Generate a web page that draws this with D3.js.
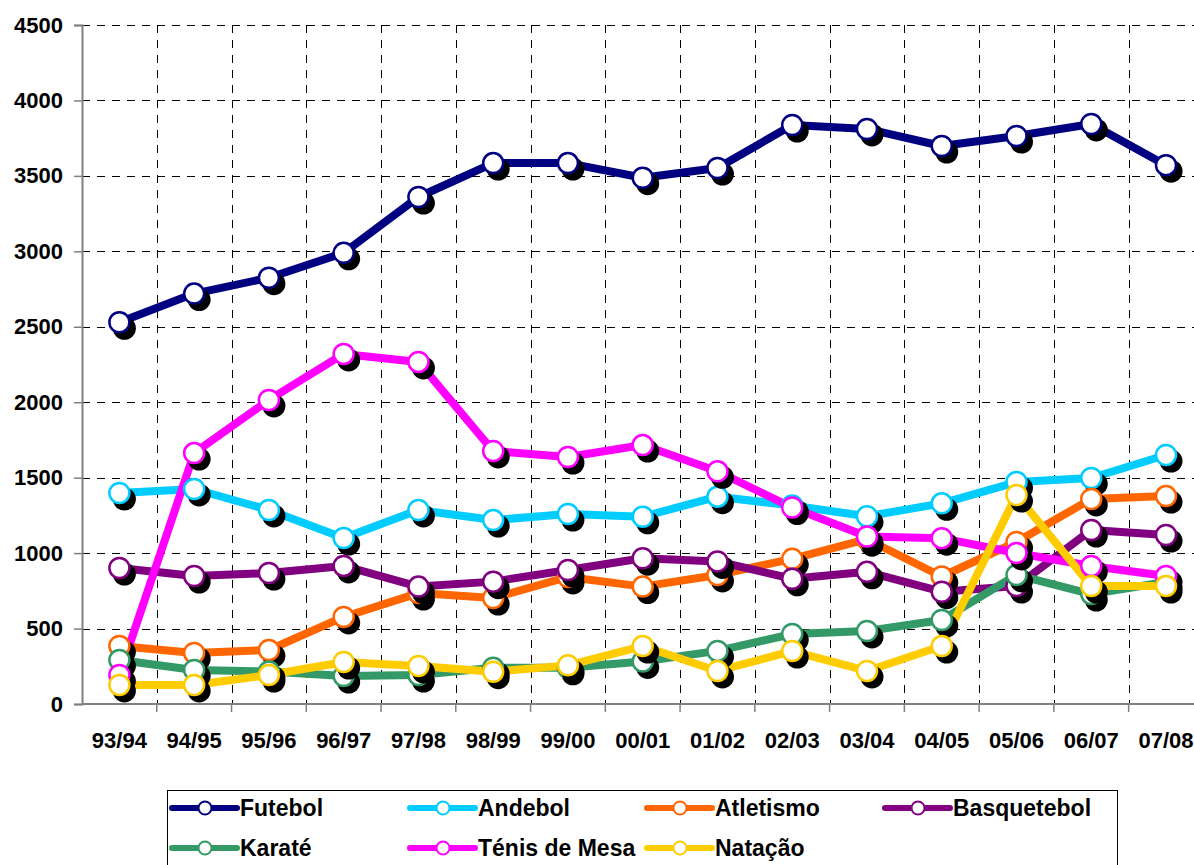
<!DOCTYPE html>
<html>
<head>
<meta charset="utf-8">
<script src="https://cdn.jsdelivr.net/npm/d3@7"></script>
<style>
  html, body { margin: 0; padding: 0; background: #fff; overflow: hidden; }
  svg { display: block; font-family: "Liberation Sans", Arial, sans-serif; font-weight: bold; }
</style>
</head>
<body>
<svg id="chart" width="1194" height="865"></svg>
<script>
// Seasons on the category axis
const seasons = ["93/94","94/95","95/96","96/97","97/98","98/99","99/00","00/01","01/02","02/03","03/04","04/05","05/06","06/07","07/08"];

// Registered athletes per sport and season
const futebol     = [2530, 2720, 2825, 2990, 3360, 3585, 3585, 3488, 3552, 3837, 3811, 3698, 3764, 3844, 3571];
const andebol     = [1398, 1425, 1286, 1100, 1286, 1219, 1259, 1241, 1374, 1316, 1244, 1330, 1471, 1498, 1650];
const atletismo   = [384, 338, 358, 577, 735, 702, 842, 778, 855, 962, 1092, 845, 1074, 1359, 1378];
const basquetebol = [901, 848, 868, 915, 778, 811, 888, 966, 945, 830, 876, 744, 782, 1153, 1120];
const karate      = [292, 225, 215, 185, 192, 240, 240, 282, 352, 464, 484, 557, 855, 729, 809];
const tenisMesa   = [192, 1663, 2015, 2320, 2267, 1677, 1637, 1716, 1542, 1302, 1110, 1099, 1001, 915, 848];
const natacao     = [126, 126, 192, 278, 252, 214, 256, 384, 219, 351, 219, 384, 1385, 782, 782];

const seriesNames  = ["Futebol", "Andebol", "Atletismo", "Basquetebol", "Karaté", "Ténis de Mesa", "Natação"];
const seriesValues = [futebol, andebol, atletismo, basquetebol, karate, tenisMesa, natacao];
const seriesColors = ["#000080", "#00CCFF", "#FF6600", "#800080", "#339966", "#FF00FF", "#FFCC00"];

const yTicks = [0, 500, 1000, 1500, 2000, 2500, 3000, 3500, 4000, 4500];

const svg = d3.select("#chart");

// Plot area (the category band runs slightly past the right edge of the page)
const plot = { left: 82, top: 25, bottom: 704, step: 74.76 };
const x = d3.scaleBand()
  .domain(seasons)
  .range([plot.left, plot.left + plot.step * seasons.length])
  .paddingInner(0).paddingOuter(0);
const y = d3.scaleLinear().domain([0, 4500]).range([plot.bottom, plot.top]);
const cx = d => x(d) + x.bandwidth() / 2;

// Gridlines
const grid = svg.append("g").attr("shape-rendering", "crispEdges");
grid.selectAll("line.h")
  .data(yTicks.filter(t => t > 0))
  .join("line")
  .attr("x1", plot.left).attr("x2", x.range()[1])
  .attr("y1", d => Math.round(y(d)) + 0.5).attr("y2", d => Math.round(y(d)) + 0.5)
  .attr("stroke", "#000").attr("stroke-width", 1).attr("stroke-dasharray", "8,7");
grid.selectAll("line.v")
  .data(seasons.slice(1).concat(["end"]))
  .join("line")
  .attr("x1", (d, i) => Math.round(plot.left + plot.step * (i + 1)) + 0.5)
  .attr("x2", (d, i) => Math.round(plot.left + plot.step * (i + 1)) + 0.5)
  .attr("y1", plot.top).attr("y2", plot.bottom)
  .attr("stroke", "#000").attr("stroke-width", 1).attr("stroke-dasharray", "8,7");

// Axes
const yAxis = d3.axisLeft(y).tickValues(yTicks).tickSize(8).tickPadding(11).tickFormat(d3.format("d"));
const gy = svg.append("g").attr("transform", `translate(${plot.left},0)`).call(yAxis);
gy.select(".domain").attr("stroke", "#808080").attr("stroke-width", 2);
gy.selectAll(".tick line").attr("stroke", "#808080").attr("stroke-width", 1.5);
gy.selectAll(".tick text").attr("fill", "#000").attr("font-size", 22).attr("font-weight", "bold")
  .attr("font-family", "Liberation Sans, Arial, sans-serif");

const xAxis = d3.axisBottom(x).tickSize(0).tickPadding(28);
const gx = svg.append("g").attr("transform", `translate(0,${plot.bottom})`).call(xAxis);
gx.select(".domain").remove();
gx.append("line").attr("x1", plot.left).attr("x2", x.range()[1]).attr("y1", 0).attr("y2", 0)
  .attr("stroke", "#808080").attr("stroke-width", 2);
gx.selectAll("line.bt")
  .data(seasons.slice(1).concat(["end"]))
  .join("line").attr("class", "bt")
  .attr("x1", (d, i) => plot.left + plot.step * (i + 1))
  .attr("x2", (d, i) => plot.left + plot.step * (i + 1))
  .attr("y1", 0).attr("y2", 8)
  .attr("stroke", "#808080").attr("stroke-width", 1.5);
gx.selectAll(".tick text").attr("fill", "#000").attr("font-size", 22).attr("font-weight", "bold")
  .attr("font-family", "Liberation Sans, Arial, sans-serif");

// Lines for every series
const line = d3.line().x((d, i) => cx(seasons[i])).y(d => y(d));
const linesG = svg.append("g");
seriesValues.forEach((vals, s) => {
  linesG.append("path")
    .datum(vals)
    .attr("d", line)
    .attr("fill", "none")
    .attr("stroke", seriesColors[s])
    .attr("stroke-width", 8)
    .attr("stroke-linejoin", "round");
});

// Markers with drop shadows
const markersG = svg.append("g");
seriesValues.forEach((vals, s) => {
  const g = markersG.append("g");
  g.selectAll("circle.sh")
    .data(vals)
    .join("circle").attr("class", "sh")
    .attr("cx", (d, i) => cx(seasons[i]) + 5)
    .attr("cy", d => y(d) + 6)
    .attr("r", 11.5)
    .attr("fill", "#000");
  g.selectAll("circle.mk")
    .data(vals)
    .join("circle").attr("class", "mk")
    .attr("cx", (d, i) => cx(seasons[i]))
    .attr("cy", d => y(d))
    .attr("r", 10)
    .attr("fill", "#fff")
    .attr("stroke", seriesColors[s])
    .attr("stroke-width", 2.5);
});

// Legend
const legend = svg.append("g");
legend.append("rect")
  .attr("x", 167.5).attr("y", 790.5).attr("width", 950).attr("height", 100)
  .attr("fill", "#fff").attr("stroke", "#000").attr("stroke-width", 1);
const colX = [172, 410, 647, 885];
const rowY = [808, 848];
seriesNames.forEach((name, i) => {
  const lx = colX[i % 4], ly = rowY[Math.floor(i / 4)];
  const item = legend.append("g").attr("transform", `translate(${lx},${ly})`);
  item.append("line").attr("x1", 0).attr("x2", 65).attr("y1", 0).attr("y2", 0)
    .attr("stroke", seriesColors[i]).attr("stroke-width", 6).attr("stroke-linecap", "round");
  item.append("circle").attr("cx", 33).attr("cy", 0).attr("r", 6.5)
    .attr("fill", "#fff").attr("stroke", seriesColors[i]).attr("stroke-width", 2);
  item.append("text").attr("x", 68).attr("y", 0).attr("dy", "0.36em")
    .attr("font-size", 23).attr("fill", "#000").text(name);
});
</script>
</body>
</html>
